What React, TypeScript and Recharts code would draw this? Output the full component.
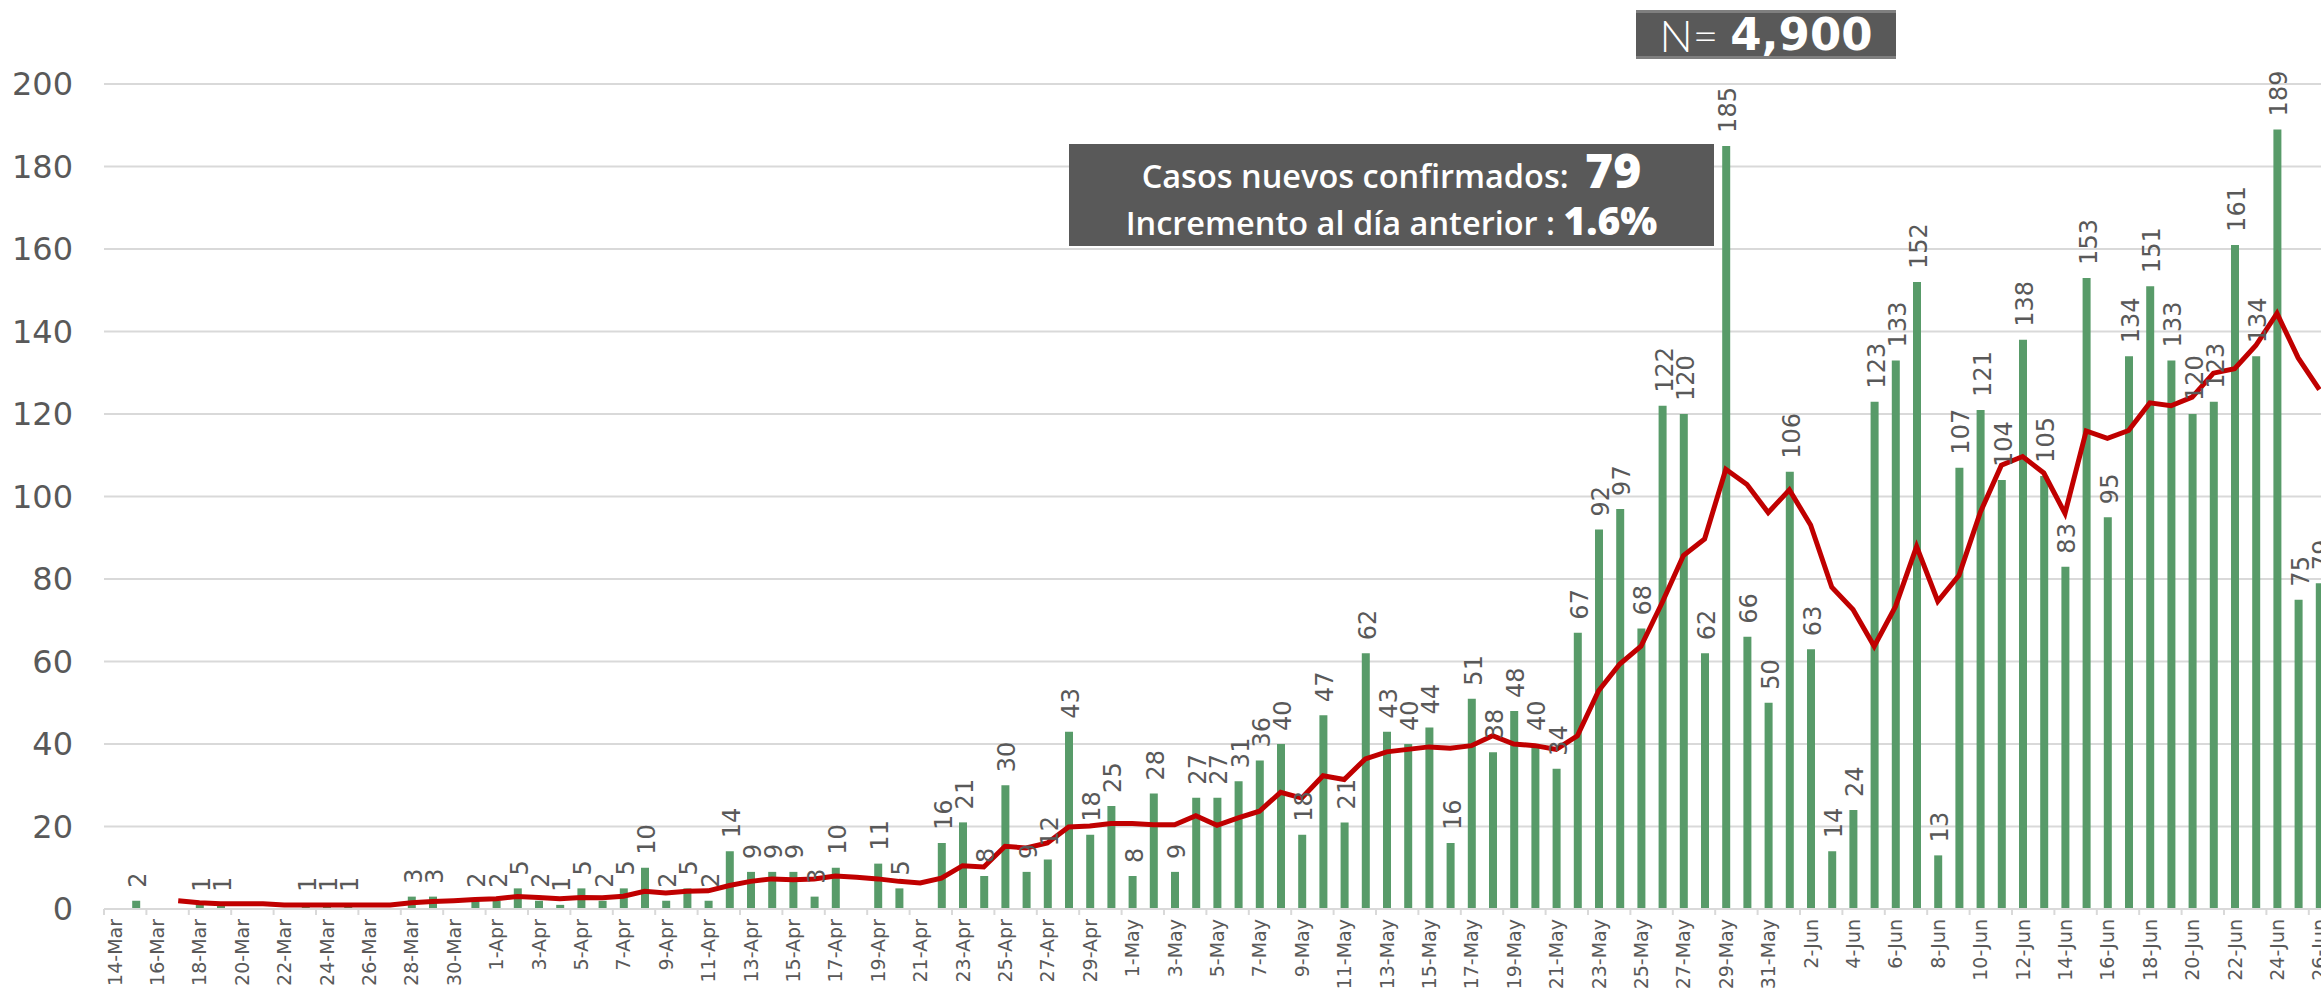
import React from 'react';
import {
  ComposedChart,
  Bar,
  Line,
  XAxis,
  YAxis,
  CartesianGrid,
  LabelList,
} from 'recharts';

const dates = [
  '14-Mar', '15-Mar', '16-Mar', '17-Mar', '18-Mar', '19-Mar', '20-Mar', '21-Mar', '22-Mar', '23-Mar',
  '24-Mar', '25-Mar', '26-Mar', '27-Mar', '28-Mar', '29-Mar', '30-Mar', '31-Mar',
  '1-Apr', '2-Apr', '3-Apr', '4-Apr', '5-Apr', '6-Apr', '7-Apr', '8-Apr', '9-Apr', '10-Apr',
  '11-Apr', '12-Apr', '13-Apr', '14-Apr', '15-Apr', '16-Apr', '17-Apr', '18-Apr', '19-Apr', '20-Apr',
  '21-Apr', '22-Apr', '23-Apr', '24-Apr', '25-Apr', '26-Apr', '27-Apr', '28-Apr', '29-Apr', '30-Apr',
  '1-May', '2-May', '3-May', '4-May', '5-May', '6-May', '7-May', '8-May', '9-May', '10-May',
  '11-May', '12-May', '13-May', '14-May', '15-May', '16-May', '17-May', '18-May', '19-May', '20-May',
  '21-May', '22-May', '23-May', '24-May', '25-May', '26-May', '27-May', '28-May', '29-May', '30-May',
  '31-May',
  '1-Jun', '2-Jun', '3-Jun', '4-Jun', '5-Jun', '6-Jun', '7-Jun', '8-Jun', '9-Jun', '10-Jun',
  '11-Jun', '12-Jun', '13-Jun', '14-Jun', '15-Jun', '16-Jun', '17-Jun', '18-Jun', '19-Jun', '20-Jun',
  '21-Jun', '22-Jun', '23-Jun', '24-Jun', '25-Jun', '26-Jun',
];

// casos nuevos por día (null = sin dato)
const cases = [
  null, 2, null, null, 1, 1, null, null, null, 1, 1, 1, null, null, 3, 3, null, 2,
  2, 5, 2, 1, 5, 2, 5, 10, 2, 5, 2, 14, 9, 9, 9, 3, 10, 0, 11, 5, null, 16, 21, 8, 30, 9, 12, 43, 18, 25,
  8, 28, 9, 27, 27, 31, 36, 40, 18, 47, 21, 62, 43, 40, 44, 16, 51, 38, 48, 40,
  34, 67, 92, 97, 68, 122, 120, 62, 185, 66, 50,
  106, 63, 14, 24, 123, 133, 152, 13, 107, 121, 104, 138, 105, 83, 153, 95, 134, 151, 133, 120,
  123, 161, 134, 189, 75, 79,
];

// promedio móvil (línea roja)
const avg = [
  null, null, null, 2.0, 1.5, 1.3, 1.3, 1.3, 1.0, 1.0, 1.0, 1.0, 1.0, 1.0, 1.5, 1.8, 2.0, 2.3,
  2.5, 3.0, 2.8, 2.5, 2.8, 2.7, 3.1, 4.3, 3.9, 4.3, 4.4, 5.7, 6.7, 7.3, 7.1, 7.3, 8.0, 7.7, 7.3, 6.7,
  6.3, 7.5, 10.5, 10.2, 15.2, 14.8, 16.0, 19.9, 20.1, 20.7,
  20.7, 20.4, 20.4, 22.6, 20.3, 22.1, 23.7, 28.3, 26.9, 32.3, 31.4, 36.4, 38.1, 38.7, 39.3, 39.0, 39.6, 42.0, 40.0, 39.6,
  38.7, 42.0, 52.9, 59.4, 63.7, 74.3, 85.7, 89.7, 106.6, 102.9, 96.1,
  101.6, 93.1, 78.0, 72.6, 63.7, 73.3, 87.9, 74.6, 80.9, 96.1, 107.6, 109.7, 105.7, 95.9, 115.9, 114.1, 116.0, 122.7, 122.0, 124.1,
  129.9, 131.0, 136.6, 144.4, 133.6, 125.9,
];

const yTicks = [0, 20, 40, 60, 80, 100, 120, 140, 160, 180, 200];

const data = dates.map((d, i) => ({ date: d, cases: cases[i], avg: avg[i] }));

const GRAY = '#595959';

// etiquetas movidas a mano en el original (con línea guía)
const labelNudge: Record<number, { dx: number; gap: number }> = {
  99: { dx: 21, gap: 46 },
  104: { dx: -6, gap: 36 },
};

const BarLabel = (props: any) => {
  const vb = props.viewBox || props;
  const x = props.x ?? vb.x;
  const y = props.y ?? vb.y;
  const width = props.width ?? vb.width;
  const { value, index } = props;
  if (value === null || value === undefined) return null;
  const bx = Number(x) + Number(width) / 2;
  const top = Number(y);
  const nudge = labelNudge[index];
  const cx = bx + 2 + (nudge ? nudge.dx : 0);
  const ty = top - (nudge ? nudge.gap : 13);
  const last = index === dates.length - 1;
  return (
    <g>
      {nudge && (
        <line x1={bx} y1={top - 2} x2={cx - 3} y2={ty + 3} stroke="#a6a6a6" strokeWidth={1.5} />
      )}
      <text
        x={cx}
        y={ty}
        transform={`rotate(-90 ${cx} ${ty})`}
        textAnchor="start"
        dominantBaseline="central"
        fontSize={24}
        fontWeight={last ? 700 : 400}
        fill={last ? '#404040' : GRAY}
      >
        {value}
      </text>
    </g>
  );
};

const DateTick = (props: any) => {
  const { x, y, payload } = props;
  const half = payload && payload.offset ? payload.offset : 10.6;
  const ty = y + 10;
  return (
    <g>
      <line x1={x - half} x2={x - half} y1={y} y2={y + 6} stroke="#d9d9d9" strokeWidth={2} />
      <text
        x={x}
        y={ty}
        transform={`rotate(-90 ${x} ${ty})`}
        textAnchor="end"
        dominantBaseline="central"
        fontSize={19}
        fill={GRAY}
      >
        {payload.value}
      </text>
    </g>
  );
};

export default function App() {
  return (
    <div
      style={{
        position: 'fixed',
        left: 0,
        top: 0,
        width: 2321,
        height: 989,
        overflow: 'hidden',
        background: '#fff',
        fontFamily: '"DejaVu Sans", sans-serif',
      }}
    >
      <ComposedChart
        width={2330}
        height={989}
        data={data}
        margin={{ top: 84, right: 0, bottom: 0, left: 8 }}
        style={{ fontFamily: '"DejaVu Sans", sans-serif' }}
      >
        <CartesianGrid vertical={false} stroke="#d9d9d9" strokeWidth={2} />
        <XAxis
          dataKey="date"
          interval={1}
          height={80}
          tickSize={0}
          tickMargin={0}
          tickLine={false}
          axisLine={{ stroke: '#d9d9d9', strokeWidth: 2 }}
          tick={<DateTick />}
        />
        <YAxis
          domain={[0, 200]}
          ticks={yTicks}
          width={96}
          tickSize={0}
          tickMargin={31}
          axisLine={false}
          tickLine={false}
          tick={{ fontSize: 32, fill: GRAY }}
        />
        <Bar dataKey="cases" fill="#589b69" barSize={8} isAnimationActive={false}>
          <LabelList dataKey="cases" content={<BarLabel />} />
        </Bar>
        <Line
          dataKey="avg"
          type="linear"
          stroke="#c00000"
          strokeWidth={5}
          dot={false}
          activeDot={false}
          isAnimationActive={false}
        />
      </ComposedChart>

      <div
        style={{
          position: 'absolute',
          left: 1636,
          top: 10,
          width: 260,
          height: 49,
          boxSizing: 'border-box',
          background: '#595959',
          borderTop: '3px solid #7f7f7f',
          borderBottom: '3px solid #7f7f7f',
          color: '#fff',
          display: 'flex',
          alignItems: 'center',
          justifyContent: 'center',
          whiteSpace: 'nowrap',
          lineHeight: 1,
        }}
      >
        <span style={{ fontFamily: 'Lato', fontWeight: 300, fontSize: 44 }}>N=</span>
        <span style={{ fontFamily: '"DejaVu Sans"', fontWeight: 700, fontSize: 45, marginLeft: 12 }}>4,900</span>
      </div>

      <div
        style={{
          position: 'absolute',
          left: 1069,
          top: 144,
          width: 645,
          height: 102,
          background: '#595959',
          color: '#fff',
          fontFamily: '"Open Sans"',
          fontWeight: 600,
          textAlign: 'center',
          whiteSpace: 'nowrap',
        }}
      >
        <div style={{ position: 'absolute', left: 0, right: 0, top: 4, height: 44, lineHeight: '44px', fontSize: 32.5 }}>
          Casos nuevos confirmados:{' '}
          <span style={{ fontWeight: 800, fontSize: 48, marginLeft: 8, lineHeight: '44px' }}>79</span>
        </div>
        <div style={{ position: 'absolute', left: 0, right: 0, top: 54, height: 44, lineHeight: '44px', fontSize: 32.5 }}>
          Incremento al día anterior :{' '}
          <span style={{ fontWeight: 800, fontSize: 39, lineHeight: '44px' }}>1.6%</span>
        </div>
      </div>
    </div>
  );
}
